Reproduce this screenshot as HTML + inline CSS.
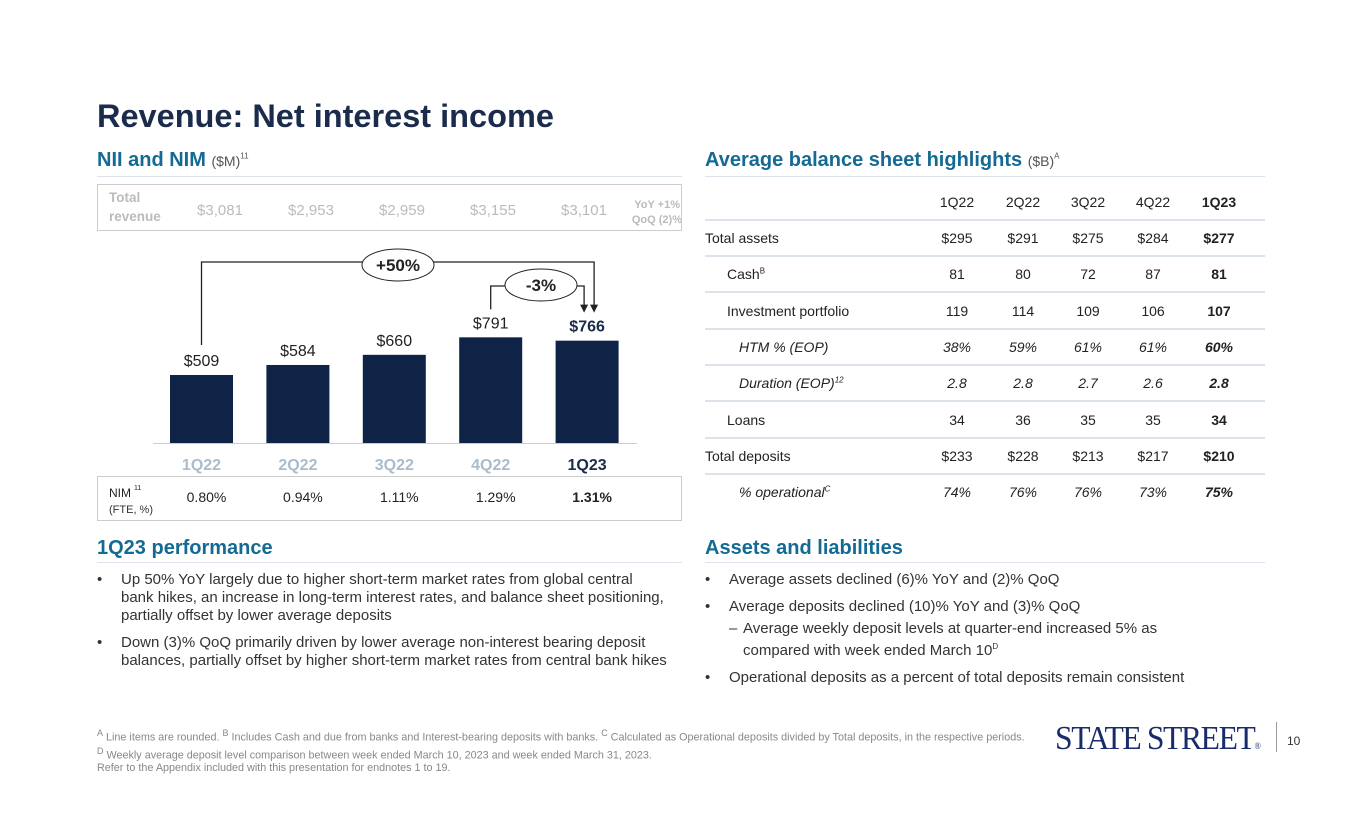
<!DOCTYPE html>
<html><head><meta charset="utf-8">
<style>
*{margin:0;padding:0;box-sizing:border-box}
body{width:1365px;height:829px;background:#fff;font-family:"Liberation Sans",Arial,sans-serif;position:relative;overflow:hidden;color:#222}
.a{position:absolute;white-space:nowrap}
h1{position:absolute;left:97px;top:98px;font-size:32.5px;font-weight:bold;color:#1a2b4c}
.sec{position:absolute;font-size:20px;font-weight:bold;color:#156a94}
.sec small{font-size:14px;font-weight:normal;color:#555}
.sec sup{font-size:8px;font-weight:normal;color:#555}
.rule{position:absolute;height:1px;background:#dde3ea}
.bul{position:absolute;font-size:15px;line-height:18px;color:#333}
.bul li{list-style:none;position:relative;padding-left:24px;margin-bottom:9px}
.bul li:before{content:"•";position:absolute;left:0}
.fn{position:absolute;left:97px;top:727px;font-size:10.8px;line-height:13px;color:#888}
</style></head><body>
<h1>Revenue: Net interest income</h1>

<div class="sec" style="left:97px;top:149px">NII and NIM <small>($M)</small><sup>11</sup></div>
<div class="rule" style="left:97px;top:176px;width:585px"></div>
<div class="sec" style="left:705px;top:149px">Average balance sheet highlights <small>($B)</small><sup>A</sup></div>
<div class="rule" style="left:705px;top:176px;width:560px"></div>

<svg class="a" style="left:0;top:0" width="700" height="530" id="chart"></svg>

<div id="tbl"></div>

<div class="sec" style="left:97px;top:537px">1Q23 performance</div>
<div class="rule" style="left:97px;top:562px;width:585px"></div>
<ul class="bul" style="left:97px;top:571px;width:570px">
<li>Up 50% YoY largely due to higher short-term market rates from global central bank hikes, an increase in long-term interest rates, and balance sheet positioning, partially offset by lower average deposits</li>
<li>Down (3)% QoQ primarily driven by lower average non-interest bearing deposit balances, partially offset by higher short-term market rates from central bank hikes</li>
</ul>
<div class="sec" style="left:705px;top:537px">Assets and liabilities</div>
<div class="rule" style="left:705px;top:562px;width:560px"></div>
<ul class="bul" style="left:705px;top:571px;width:505px">
<li>Average assets declined (6)% YoY and (2)% QoQ</li>
<li style="margin-bottom:4px">Average deposits declined (10)% YoY and (3)% QoQ</li>
<li style="padding-left:38px" class="dash">Average weekly deposit levels at quarter-end increased 5% as compared with week ended March 10<sup style="font-size:8px">D</sup></li>
<li>Operational deposits as a percent of total deposits remain consistent</li>
</ul>
<style>.dash:before{content:"–"!important;left:24px!important}</style>

<div class="fn"><sup>A</sup> Line items are rounded. <sup>B</sup> Includes Cash and due from banks and Interest-bearing deposits with banks. <sup>C</sup> Calculated as Operational deposits divided by Total deposits, in the respective periods.<br><sup>D</sup> Weekly average deposit level comparison between week ended March 10, 2023 and week ended March 31, 2023.<br>Refer to the Appendix included with this presentation for endnotes 1 to 19.</div>
<div class="a" style="left:1055px;top:720px;font-family:'Liberation Serif',serif;font-size:34px;color:#1a2b6c;letter-spacing:-1.5px;transform:scaleX(0.93);transform-origin:left">STATE STREET<span style="font-size:9px">®</span></div>
<div class="a" style="left:1276px;top:722px;width:1px;height:30px;background:#999"></div>
<div class="a" style="left:1287px;top:734px;font-size:12px;color:#333">10</div>

<script>
const quarters=["1Q22","2Q22","3Q22","4Q22","1Q23"];
const nii=[509,584,660,791,766];
const niiLabels=["$509","$584","$660","$791","$766"];
const revenue=["$3,081","$2,953","$2,959","$3,155","$3,101"];
const nim=["0.80%","0.94%","1.11%","1.29%","1.31%"];
const NS="http://www.w3.org/2000/svg";
const svg=document.getElementById('chart');
function mk(t,a,txt){const e=document.createElementNS(NS,t);for(const k in a)e.setAttribute(k,a[k]);if(txt!=null)e.textContent=txt;svg.appendChild(e);return e;}
const base=443, sc=0.1336;
const xc=i=>201.5+96.4*i;
const yv=v=>base-v*sc;
let r=mk('rect',{x:97.5,y:184.5,width:584,height:46,fill:'none',stroke:'#ccc'});

mk('text',{x:109,y:202,'font-size':13.5,'font-weight':'bold',fill:'#bbb'},'Total');
mk('text',{x:109,y:221,'font-size':13.5,'font-weight':'bold',fill:'#bbb'},'revenue');
revenue.forEach((t,i)=>{const e=mk('text',{x:220+91*i,y:215,'font-size':15,fill:'#bbb','text-anchor':'middle'},t);
});
mk('text',{x:680,y:208,'font-size':11,'font-weight':'bold',fill:'#bbb','text-anchor':'end'},'YoY +1%');
mk('text',{x:682,y:223,'font-size':11,'font-weight':'bold',fill:'#bbb','text-anchor':'end'},'QoQ (2)%');
mk('line',{x1:153,x2:637,y1:443.5,y2:443.5,stroke:'#ccc'});
nii.forEach((v,i)=>{
 const b=mk('rect',{x:xc(i)-31.5,y:yv(v),width:63,height:base-yv(v),fill:'#0f2347'});
 
 const l=mk('text',{x:xc(i),y:yv(v)-9,'font-size':16,'text-anchor':'middle',fill:i==4?'#1a2b4c':'#222','font-weight':i==4?'bold':'normal'},niiLabels[i]);
 
 const q=mk('text',{x:xc(i),y:470,'font-size':16,'font-weight':'bold','text-anchor':'middle',fill:i==4?'#1a2b4c':'#a9bccd'},quarters[i]);
 
 const n=mk('text',{x:xc(i)+5,y:502,'font-size':14,'text-anchor':'middle',fill:'#222','font-weight':i==4?'bold':'normal'},nim[i]);
 
});
mk('rect',{x:97.5,y:476.5,width:584,height:44,fill:'none',stroke:'#ccc'});
mk('text',{x:109,y:497,'font-size':12,fill:'#222'},'NIM');
mk('text',{x:134,y:490,'font-size':7,fill:'#222'},'11');
mk('text',{x:109,y:513,'font-size':11,fill:'#333'},'(FTE, %)');
const yTop=262, x0=xc(0), x4=xc(4);
mk('polyline',{points:`${x0},${yv(nii[0])-30} ${x0},${yTop} ${x4+7},${yTop} ${x4+7},${yv(nii[4])-33}`,fill:'none',stroke:'#222','stroke-width':1.3});
mk('path',{d:`M${x4+3},${yv(nii[4])-36} l4,8 l4,-8z`,fill:'#222'});
const yQ=286;
mk('polyline',{points:`${xc(3)},${yv(nii[3])-28} ${xc(3)},${yQ} ${x4-3},${yQ} ${x4-3},${yv(nii[4])-33}`,fill:'none',stroke:'#222','stroke-width':1.3});
mk('path',{d:`M${x4-7},${yv(nii[4])-36} l4,8 l4,-8z`,fill:'#222'});
let e1=mk('ellipse',{cx:398,cy:265,rx:36,ry:16,fill:'#fff',stroke:'#222'});

mk('text',{x:398,y:271,'font-size':17,'font-weight':'bold','text-anchor':'middle',fill:'#222'},'+50%');
let e2=mk('ellipse',{cx:541,cy:285,rx:36,ry:16,fill:'#fff',stroke:'#222'});

mk('text',{x:541,y:291,'font-size':17,'font-weight':'bold','text-anchor':'middle',fill:'#222'},'-3%');

const rowLabels=["Total assets","Cash","Investment portfolio","HTM % (EOP)","Duration (EOP)","Loans","Total deposits","% operational"];
const rowSup=["","B","","","12","","","C"];
const rowIndent=[0,22,22,34,34,22,0,34];
const rowItalic=[0,0,0,1,1,0,0,1];
const tableVals=[
["$295","$291","$275","$284","$277"],
["81","80","72","87","81"],
["119","114","109","106","107"],
["38%","59%","61%","61%","60%"],
["2.8","2.8","2.7","2.6","2.8"],
["34","36","35","35","34"],
["$233","$228","$213","$217","$210"],
["74%","76%","76%","73%","75%"]];
const tbl=document.getElementById('tbl');
const cx=[957,1023,1088,1153,1219];
function dv(css,txt){const d=document.createElement('div');d.className='a';d.style.cssText=css;d.innerHTML=txt;tbl.appendChild(d);return d;}
quarters.forEach((q,i)=>{const d=dv(`left:${cx[i]-30}px;width:60px;text-align:center;top:194px;font-size:14px;${i==4?'font-weight:bold;':''}`,q);
});
dv('left:705px;top:219px;width:560px;height:2px;background:#dde3ea','');
rowLabels.forEach((l,r)=>{
 const y=230+36.3*r;
 const d=dv(`left:${705+rowIndent[r]}px;top:${y}px;font-size:14px;${rowItalic[r]?'font-style:italic;':''}`,l+(rowSup[r]?`<sup style="font-size:8px">${rowSup[r]}</sup>`:''));
 
 tableVals[r].forEach((v,i)=>{const c=dv(`left:${cx[i]-30}px;width:60px;text-align:center;top:${y}px;font-size:14px;${rowItalic[r]?'font-style:italic;':''}${i==4?'font-weight:bold;':''}`,v);
 });
 if(r<7)dv(`left:705px;top:${y+25}px;width:560px;height:2px;background:#dde3ea`,'');
});
</script>
</body></html>
